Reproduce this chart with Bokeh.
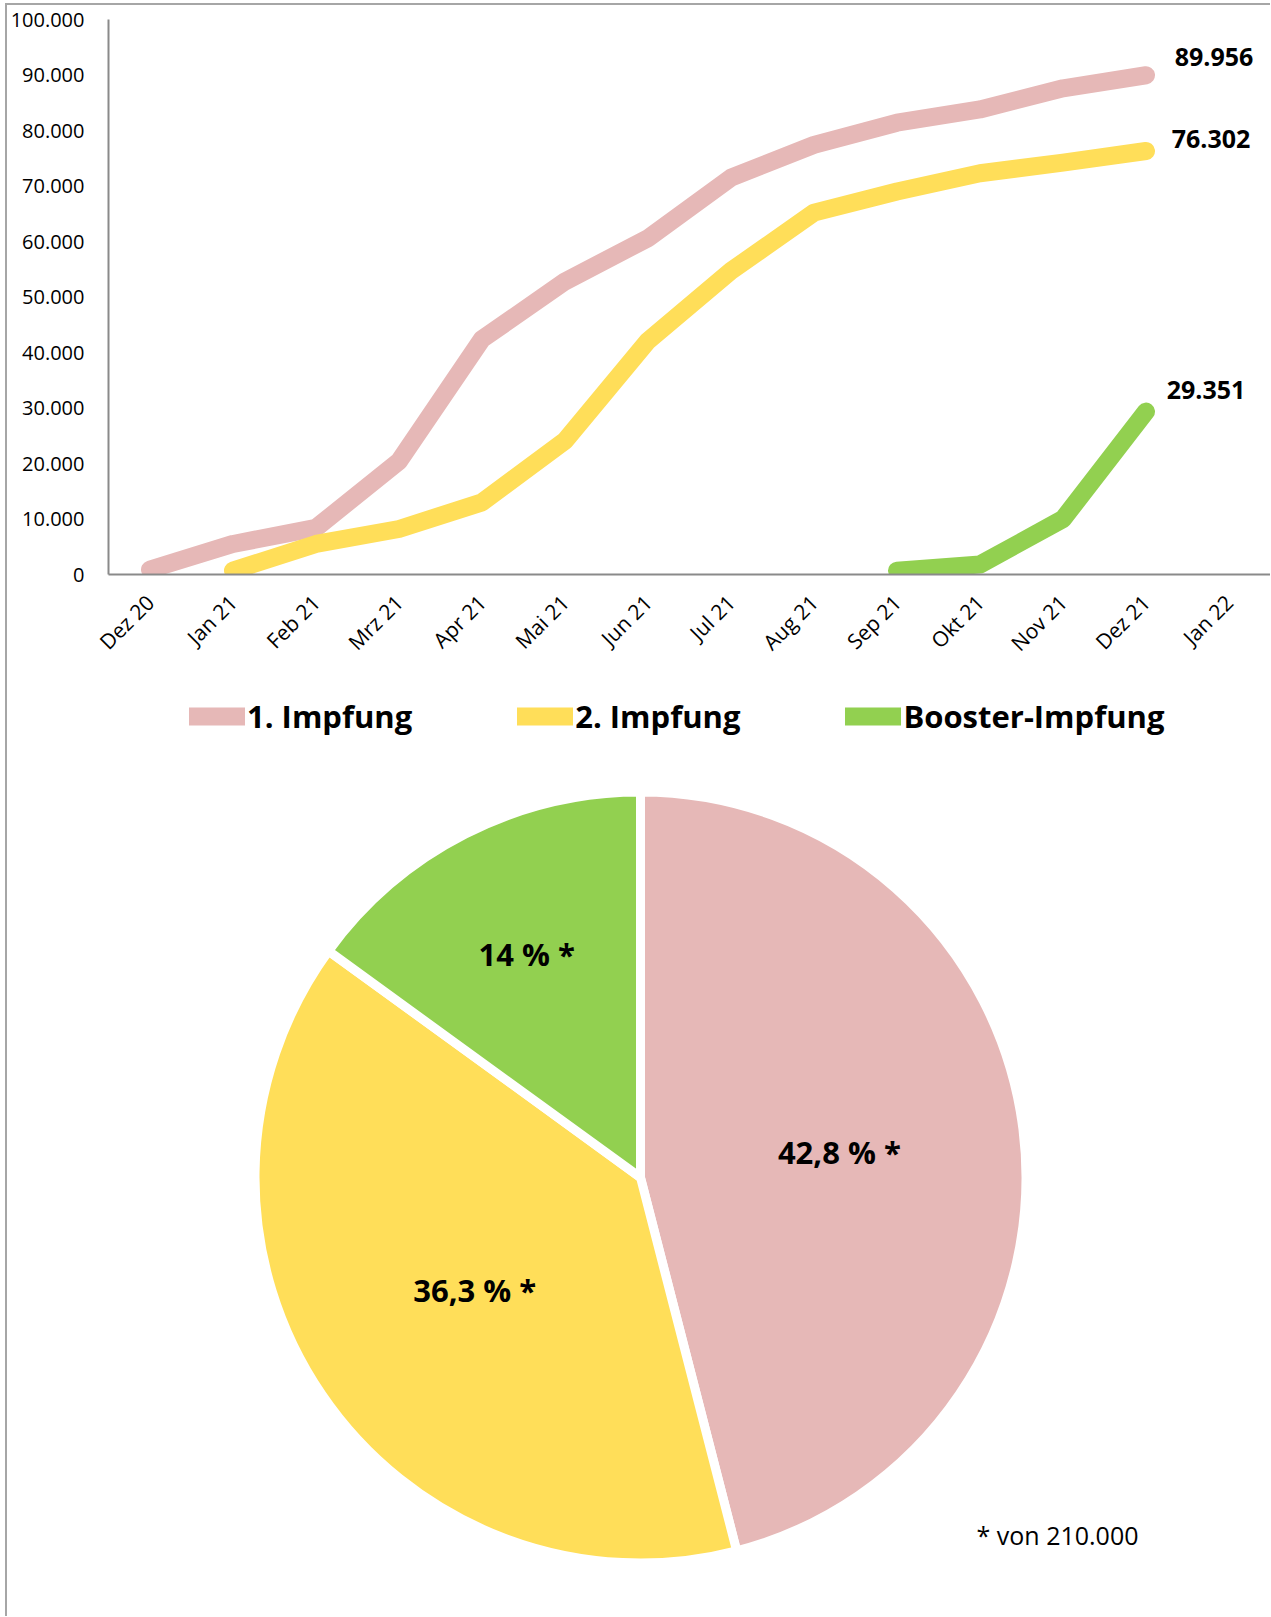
import math
from bokeh.plotting import figure
from bokeh.models import (Range1d, FixedTicker, Label, ColumnDataSource, Legend, LegendItem,
                          BoxAnnotation)
from bokeh.layouts import column
from bokeh.core.properties import value
from bokeh.embed import file_html
from bokeh.resources import INLINE

# ---------------- data ----------------
months = ["Dez 20", "Jan 21", "Feb 21", "Mrz 21", "Apr 21", "Mai 21", "Jun 21",
          "Jul 21", "Aug 21", "Sep 21", "Okt 21", "Nov 21", "Dez 21", "Jan 22"]

erst_months = ["Dez 20", "Jan 21", "Feb 21", "Mrz 21", "Apr 21", "Mai 21", "Jun 21",
               "Jul 21", "Aug 21", "Sep 21", "Okt 21", "Nov 21", "Dez 21"]
erst_values = [900, 5500, 8400, 20400, 42400, 52800, 60600,
               71500, 77400, 81400, 83800, 87600, 89956]

zweit_months = ["Jan 21", "Feb 21", "Mrz 21", "Apr 21", "Mai 21", "Jun 21",
                "Jul 21", "Aug 21", "Sep 21", "Okt 21", "Nov 21", "Dez 21"]
zweit_values = [700, 5500, 8200, 13000, 24100, 42100,
                54700, 65200, 69000, 72300, 74200, 76302]

booster_months = ["Sep 21", "Okt 21", "Nov 21", "Dez 21"]
booster_values = [700, 1800, 10000, 29351]

series_names = ["1. Impfung", "2. Impfung", "Booster-Impfung"]
y_ticks = [0, 10000, 20000, 30000, 40000, 50000, 60000, 70000, 80000, 90000, 100000]
y_max = 100000

pie_values = [89956, 76302, 29351]
population = 210000
footnote = "* von 210.000"

# ---------------- styles / layout ----------------
colors = ["#E6B8B7", "#FFDE59", "#92D050"]
FONT = "Open Sans"
end_label_dx = [68, 65, 60]
end_label_dy = [-18, -12, -22]
pie_label_dist = [0.52, 0.52, 0.65]
W = 1263
H1 = 755            # line chart figure height
TOP_PX = 14         # room above the y_max tick
AXIS_PX = 555       # pixels for 0 .. y_max
BELOW_PX = H1 - TOP_PX - AXIS_PX   # room under the x axis (labels + legend)
LEFT_PX = 101       # room left of the y axis (tick labels)


def de_int(v):
    return f"{v:,}".replace(",", ".")


# month name -> position on the category axis
pos = {m: i for i, m in enumerate(months)}
n_cat = len(months)

# ---------------- line chart ----------------
x_lo = -0.5 - n_cat * LEFT_PX / (W - LEFT_PX)
y_lo = -y_max * BELOW_PX / AXIS_PX
y_hi = y_max + y_max * TOP_PX / AXIS_PX
p = figure(x_range=Range1d(x_lo, n_cat - 0.5), y_range=Range1d(y_lo, y_hi),
           width=W, height=H1, output_backend="svg", toolbar_location=None,
           min_border_left=0, min_border_right=0, min_border_top=0, min_border_bottom=0)

series = [(erst_months, erst_values), (zweit_months, zweit_values), (booster_months, booster_values)]
renderers = []
for (ms, ys), c in zip(series, colors):
    r = p.line(x=[pos[m] for m in ms], y=ys, line_color=c, line_width=18,
               line_cap="round", line_join="round")
    renderers.append(r)

# lines are cut at the x axis, as in the original
mask = BoxAnnotation(top=0, fill_color="white", fill_alpha=1, line_color=None, level="glyph")
p.add_layout(mask)

last_x = [pos[s[0][-1]] for s in series]
last_y = [s[1][-1] for s in series]
src = ColumnDataSource(dict(x=last_x, y=last_y, t=[de_int(v) for v in last_y],
                            dx=end_label_dx, dy=end_label_dy))
p.text(x="x", y="y", text="t", source=src, x_offset="dx", y_offset="dy",
       text_font=value(FONT), text_font_style="bold", text_font_size="25px",
       text_align="center", text_baseline="middle", text_color="#000000")

p.xgrid.grid_line_color = None
p.ygrid.grid_line_color = None
p.outline_line_color = None

for ax in (p.xaxis[0], p.yaxis[0]):
    ax.axis_line_color = "#8a8a8a"
    ax.axis_line_width = 2
    ax.major_tick_line_color = None
    ax.minor_tick_line_color = None
    ax.major_label_text_font = FONT
    ax.major_label_text_color = "#000000"

p.yaxis.fixed_location = -0.5
p.yaxis.ticker = FixedTicker(ticks=y_ticks)
p.yaxis.bounds = (0, y_max)
p.yaxis.major_label_overrides = {v: de_int(v) for v in y_ticks}
p.yaxis.major_label_text_font_size = "20px"
p.yaxis.major_label_standoff = 18

p.xaxis.fixed_location = 0
p.xaxis.bounds = (-0.5, n_cat - 0.5)
p.xaxis.ticker = FixedTicker(ticks=list(range(n_cat)))
p.xaxis.major_label_overrides = {i: m for i, m in enumerate(months)}
p.xaxis.major_label_orientation = math.pi / 4
p.xaxis.major_label_text_font_size = "21px"
p.xaxis.major_label_standoff = 18

legend = Legend(items=[LegendItem(label=n, renderers=[r]) for n, r in zip(series_names, renderers)],
                location=(182, 23), orientation="horizontal", margin=0, padding=0,
                glyph_width=56, glyph_height=40, label_height=40, label_standoff=2, spacing=105,
                border_line_color=None, background_fill_alpha=0,
                label_text_font=FONT, label_text_font_style="bold", label_text_font_size="31px",
                label_text_color="#000000")
p.add_layout(legend, "center")

# ---------------- pie chart ----------------
H2 = 856
p2 = figure(width=W, height=H2, x_range=Range1d(0, W), y_range=Range1d(0, H2),
            x_axis_type=None, y_axis_type=None, output_backend="svg", toolbar_location=None,
            min_border_left=0, min_border_right=0, min_border_top=0, min_border_bottom=0)
p2.outline_line_color = None
p2.xgrid.grid_line_color = None
p2.ygrid.grid_line_color = None

cx, cy, R = 633, 439, 385.5
total = sum(pie_values)
cum = [0.0]
for v in pie_values:
    cum.append(cum[-1] + v / total)
starts = [math.radians(90 - 360 * cum[i + 1]) for i in range(len(pie_values))]
ends = [math.radians(90 - 360 * cum[i]) for i in range(len(pie_values))]
p2.wedge(x=cx, y=cy, radius=R, start_angle=starts, end_angle=ends,
         fill_color=colors, line_color="white", line_width=9)


def pct_text(v):
    s = f"{100 * v / population:.1f}"
    if s.endswith(".0"):
        s = s[:-2]
    return s.replace(".", ",") + " % *"


mids = [(a + b) / 2 for a, b in zip(starts, ends)]
lx = [cx + k * R * math.cos(m) for k, m in zip(pie_label_dist, mids)]
ly = [cy + k * R * math.sin(m) for k, m in zip(pie_label_dist, mids)]
p2.text(x=lx, y=ly, text=[pct_text(v) for v in pie_values],
        text_font=value(FONT), text_font_style="bold", text_font_size="31px",
        text_align="center", text_baseline="middle", text_color="#000000")

p2.add_layout(Label(x=1050, y=82, text=footnote, text_font=FONT, text_font_size="25px",
                    text_align="center", text_baseline="middle", text_color="#000000"))

layout = column(p, p2, spacing=0,
                styles={"margin-left": "5px", "margin-top": "3px",
                        "border-top": "2px solid #a6a6a6", "border-left": "2px solid #a6a6a6"})

open("out.html", "w").write(file_html(layout, INLINE))
